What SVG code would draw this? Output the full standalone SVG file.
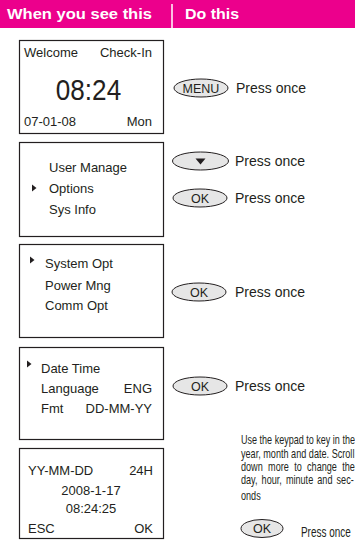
<svg xmlns="http://www.w3.org/2000/svg" width="355" height="540" viewBox="0 0 355 540">
<style>
.hd{font-family:"Liberation Sans",Arial,sans-serif;font-weight:bold;font-size:15px;fill:#fff}
.box{fill:#fff;stroke:#231f20;stroke-width:1.2}
.lcd{font-family:"Liberation Sans",Arial,sans-serif;font-size:13px;fill:#231f20}
.big{font-family:"Liberation Sans",Arial,sans-serif;font-size:30px;fill:#231f20;text-anchor:middle}
.btn{fill:#e6e6e6;stroke:#231f20;stroke-width:1}
.bt{font-family:"Liberation Sans",Arial,sans-serif;font-size:12.5px;fill:#231f20;text-anchor:middle}
.pr{font-family:"Liberation Sans",Arial,sans-serif;font-size:14px;fill:#231f20}
.para{font-family:"Liberation Sans",Arial,sans-serif;font-size:13px;fill:#231f20}
.end{text-anchor:end}
.mid{text-anchor:middle}
.tri{fill:#231f20}
</style>
<g id="header">
<rect x="0" y="0" width="355" height="28" fill="#ec008c"/>
<line x1="172" y1="4" x2="172" y2="28" stroke="#fff" stroke-width="1.5"/>
<text class="hd" x="7" y="19" textLength="145" lengthAdjust="spacingAndGlyphs">When you see this</text>
<text class="hd" x="185" y="19" textLength="54" lengthAdjust="spacingAndGlyphs">Do this</text>
</g>
<g id="screen1">
<rect class="box" x="19.5" y="40.5" width="144" height="93"/>
<text class="lcd" x="24" y="57">Welcome</text>
<text class="lcd end" x="152" y="57">Check-In</text>
<text class="big" transform="translate(88.5,100) scale(0.87,1)" x="0" y="0">08:24</text>
<text class="lcd" x="24" y="126">07-01-08</text>
<text class="lcd end" x="152" y="126">Mon</text>
</g>
<g id="screen2">
<rect class="box" x="19.5" y="142.5" width="144" height="94"/>
<text class="lcd" x="49" y="172">User Manage</text>
<polygon class="tri" points="32,184.5 36.5,188 32,191.5"/>
<text class="lcd" x="49" y="193">Options</text>
<text class="lcd" x="49" y="214">Sys Info</text>
</g>
<g id="screen3">
<rect class="box" x="19.5" y="244.5" width="144" height="93"/>
<polygon class="tri" points="30,256.5 34.5,260 30,263.5"/>
<text class="lcd" x="45" y="268">System Opt</text>
<text class="lcd" x="45" y="290">Power Mng</text>
<text class="lcd" x="45" y="310">Comm Opt</text>
</g>
<g id="screen4">
<rect class="box" x="19.5" y="347.5" width="144" height="92"/>
<polygon class="tri" points="27,360.5 31.5,364 27,367.5"/>
<text class="lcd" x="41" y="373">Date Time</text>
<text class="lcd" x="41" y="393">Language</text>
<text class="lcd end" x="152" y="393">ENG</text>
<text class="lcd" x="41" y="413">Fmt</text>
<text class="lcd end" x="152" y="413">DD-MM-YY</text>
</g>
<g id="screen5">
<rect class="box" x="19.5" y="448.5" width="144" height="90"/>
<text class="lcd" x="28" y="475">YY-MM-DD</text>
<text class="lcd end" x="153" y="475">24H</text>
<text class="lcd mid" x="91" y="495">2008-1-17</text>
<text class="lcd mid" x="91" y="513">08:24:25</text>
<text class="lcd" x="28" y="533">ESC</text>
<text class="lcd end" x="153" y="533">OK</text>
</g>
<g id="step1">
<ellipse class="btn" cx="201" cy="88" rx="27" ry="9"/>
<text class="bt" x="201" y="92.5">MENU</text>
<text class="pr" x="236" y="93">Press once</text>
</g>
<g id="step2">
<ellipse class="btn" cx="200.5" cy="161" rx="28" ry="9"/>
<polygon class="tri" points="195.5,158.5 205.5,158.5 200.5,164.5"/>
<text class="pr" x="235" y="166">Press once</text>
<ellipse class="btn" cx="200" cy="198" rx="27" ry="9"/>
<text class="bt" x="200" y="202.5">OK</text>
<text class="pr" x="235" y="203">Press once</text>
</g>
<g id="step3">
<ellipse class="btn" cx="199" cy="292" rx="27" ry="9"/>
<text class="bt" x="199" y="296.5">OK</text>
<text class="pr" x="235" y="297">Press once</text>
</g>
<g id="step4">
<ellipse class="btn" cx="200" cy="386" rx="27" ry="9"/>
<text class="bt" x="200" y="390.5">OK</text>
<text class="pr" x="235" y="391">Press once</text>
</g>
<g id="step5">
<text class="para" transform="translate(241,444) scale(0.695,1)">Use the keypad to key in the</text>
<text class="para" transform="translate(241,458) scale(0.701,1)">year, month and date. Scroll</text>
<text class="para" transform="translate(241,471) scale(0.70,1)" word-spacing="4">down more to change the</text>
<text class="para" transform="translate(241,484) scale(0.70,1)" word-spacing="2.2">day, hour, minute and sec-</text>
<text class="para" transform="translate(241,500) scale(0.70,1)">onds</text>
<ellipse class="btn" cx="262" cy="528.5" rx="21" ry="9"/>
<text class="bt" x="262" y="533">OK</text>
<text class="pr" transform="translate(301,537) scale(0.71,1)">Press once</text>
</g>
<g id="connectors"/>
</svg>
